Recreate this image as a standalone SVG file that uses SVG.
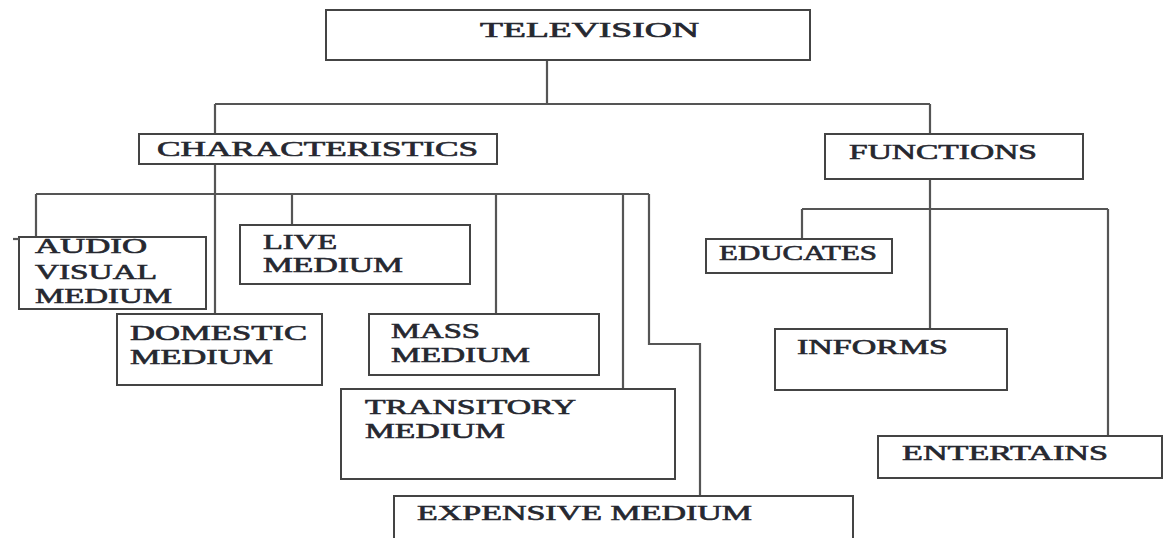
<svg xmlns="http://www.w3.org/2000/svg" width="1166" height="538" viewBox="0 0 1166 538">
<style>
.box{fill:#fff;stroke:#444;stroke-width:2}
.line{fill:none;stroke:#555;stroke-width:2.2}
text{font-family:"Liberation Serif","Times New Roman",serif;font-size:20px;fill:#262830;stroke:#262830;stroke-width:0.6}
</style>
<rect width="1166" height="538" fill="#fff"/>
<g id="connectors">
<path class="line" d="M547 60V104M215 104H930M215 104V134M930 104V134"/>
<path class="line" d="M215 164V314M36 194H649M36 194V237M292 194V225M496 194V314M623 194V389M649 194V344H700V496"/>
<path class="line" d="M930 179V329M802 209H1108M802 209V239M1108 209V436"/>
</g>
<g id="television">
<rect class="box" x="326" y="10" width="484" height="50"/>
<text x="480" y="37" font-size="22" textLength="219" lengthAdjust="spacingAndGlyphs">TELEVISION</text>
</g>
<g id="characteristics">
<rect class="box" x="139" y="134" width="358" height="30"/>
<text x="157" y="156" textLength="321" lengthAdjust="spacingAndGlyphs">CHARACTERISTICS</text>
</g>
<g id="functions">
<rect class="box" x="825" y="134" width="258" height="45"/>
<text x="849" y="159" font-size="19" textLength="188" lengthAdjust="spacingAndGlyphs">FUNCTIONS</text>
</g>
<g id="audio-visual">
<rect class="box" x="19" y="237" width="187" height="72" stroke-width="2.5"/>
<path class="line" d="M13 239H19"/>
<text x="35" y="253" font-size="19" textLength="112" lengthAdjust="spacingAndGlyphs">AUDIO</text>
<text x="35" y="279" font-size="19" textLength="122" lengthAdjust="spacingAndGlyphs">VISUAL</text>
<text x="35" y="303" font-size="19" textLength="137" lengthAdjust="spacingAndGlyphs">MEDIUM</text>
</g>
<g id="live">
<rect class="box" x="240" y="225" width="230" height="59"/>
<text x="263" y="249" textLength="74" lengthAdjust="spacingAndGlyphs">LIVE</text>
<text x="263" y="272" textLength="140" lengthAdjust="spacingAndGlyphs">MEDIUM</text>
</g>
<g id="domestic">
<rect class="box" x="117" y="314" width="205" height="71"/>
<text x="130" y="340" textLength="177" lengthAdjust="spacingAndGlyphs">DOMESTIC</text>
<text x="130" y="364" textLength="143" lengthAdjust="spacingAndGlyphs">MEDIUM</text>
</g>
<g id="mass">
<rect class="box" x="369" y="314" width="230" height="61"/>
<text x="391" y="338" textLength="89" lengthAdjust="spacingAndGlyphs">MASS</text>
<text x="391" y="362" textLength="139" lengthAdjust="spacingAndGlyphs">MEDIUM</text>
</g>
<g id="transitory">
<rect class="box" x="341" y="389" width="334" height="90"/>
<text x="365" y="414" textLength="211" lengthAdjust="spacingAndGlyphs">TRANSITORY</text>
<text x="365" y="438" textLength="140" lengthAdjust="spacingAndGlyphs">MEDIUM</text>
</g>
<g id="expensive">
<rect class="box" x="394" y="496" width="459" height="60"/>
<text x="417" y="520" textLength="335" lengthAdjust="spacingAndGlyphs">EXPENSIVE MEDIUM</text>
</g>
<g id="educates">
<rect class="box" x="706" y="239" width="186" height="34" stroke-width="2.6"/>
<text x="719" y="260" textLength="158" lengthAdjust="spacingAndGlyphs">EDUCATES</text>
</g>
<g id="informs">
<rect class="box" x="775" y="329" width="232" height="61"/>
<text x="797" y="354" textLength="151" lengthAdjust="spacingAndGlyphs">INFORMS</text>
</g>
<g id="entertains">
<rect class="box" x="878" y="436" width="284" height="42"/>
<text x="902" y="460" textLength="206" lengthAdjust="spacingAndGlyphs">ENTERTAINS</text>
</g>
</svg>
